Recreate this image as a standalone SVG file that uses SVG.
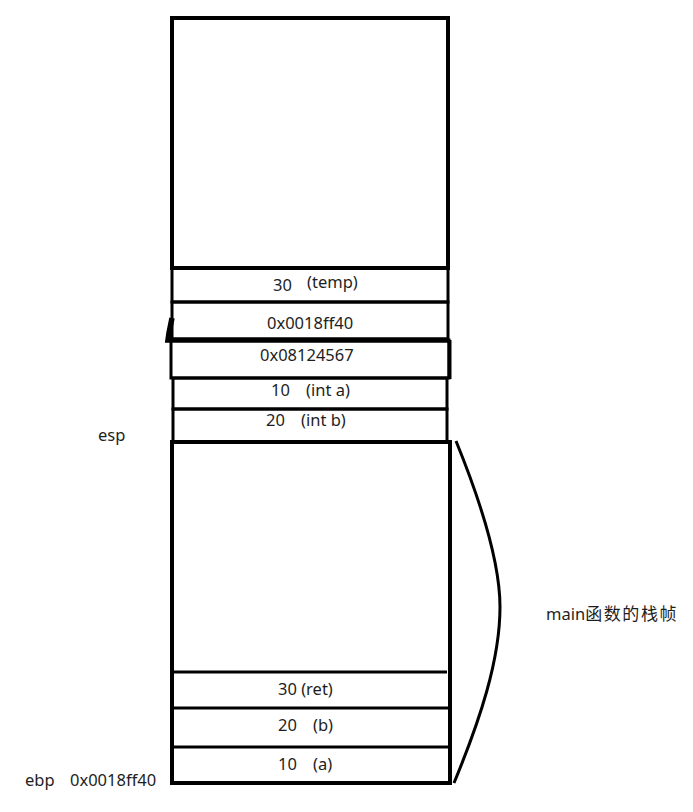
<svg xmlns="http://www.w3.org/2000/svg" width="693" height="812" viewBox="0 0 693 812">
<style>
.b{fill:none;stroke:#000;stroke-width:3;stroke-linejoin:miter}
.o{fill:none;stroke:#000;stroke-width:4}
.t{font-family:"Noto Sans","Noto Sans CJK SC",sans-serif;font-size:16.5px;fill:#1e1e1e}
.c{font-family:"Noto Sans CJK SC","Noto Sans",sans-serif;font-size:17px;letter-spacing:1.6px}
</style>
<rect width="693" height="812" fill="#fff"/>
<g id="free-area">
<rect class="o" x="172" y="18" width="276" height="250"/>
</g>
<g id="temp">
<rect class="b" x="172" y="268" width="276" height="34"/>
<text class="t"><tspan x="273" y="291">30</tspan><tspan x="307" y="288">(temp)</tspan></text>
</g>
<g id="saved-ebp">
<rect class="b" x="172" y="302" width="276" height="38"/>
<path d="M172,318 L169,333 L168,340 L449,340" fill="none" stroke="#000" stroke-width="5.5"/>
<text class="t" x="267" y="329">0x0018ff40</text>
</g>
<g id="ret-addr">
<rect class="b" x="171" y="340" width="278" height="38"/>
<line x1="449.5" y1="340" x2="449.5" y2="379" stroke="#000" stroke-width="4"/>
<text class="t" x="260" y="361">0x08124567</text>
</g>
<g id="int-a">
<rect class="b" x="173" y="378" width="274" height="31"/>
<text class="t"><tspan x="271" y="396">10</tspan><tspan x="306" y="396">(int a)</tspan></text>
</g>
<g id="int-b">
<rect class="b" x="173" y="409" width="274" height="33"/>
<text class="t"><tspan x="266" y="426">20</tspan><tspan x="301" y="426">(int b)</tspan></text>
</g>
<g id="main-frame">
<rect class="o" x="172" y="442" width="278" height="341"/>
<line class="b" x1="172" y1="672" x2="447" y2="672"/>
</g>
<g id="ret">
<line class="b" x1="172" y1="708" x2="450" y2="708"/>
<text class="t" x="278" y="695">30 (ret)</text>
</g>
<g id="b">
<line class="b" x1="172" y1="747" x2="450" y2="747"/>
<text class="t"><tspan x="278" y="731">20</tspan><tspan x="313" y="731">(b)</tspan></text>
</g>
<g id="a">
<text class="t"><tspan x="278" y="770">10</tspan><tspan x="313" y="770">(a)</tspan></text>
</g>
<g id="labels">
<text class="t" x="98" y="441">esp</text>
<text class="t"><tspan x="25" y="786">ebp</tspan><tspan x="70" y="786">0x0018ff40</tspan></text>
<text class="t" x="546" y="620">main<tspan class="c">函数的栈帧</tspan></text>
</g>
<g id="connectors">
<path d="M456,441 C478,495 500,560 500,607 C500,660 480,720 454,783" fill="none" stroke="#000" stroke-width="3"/>
</g>
</svg>
